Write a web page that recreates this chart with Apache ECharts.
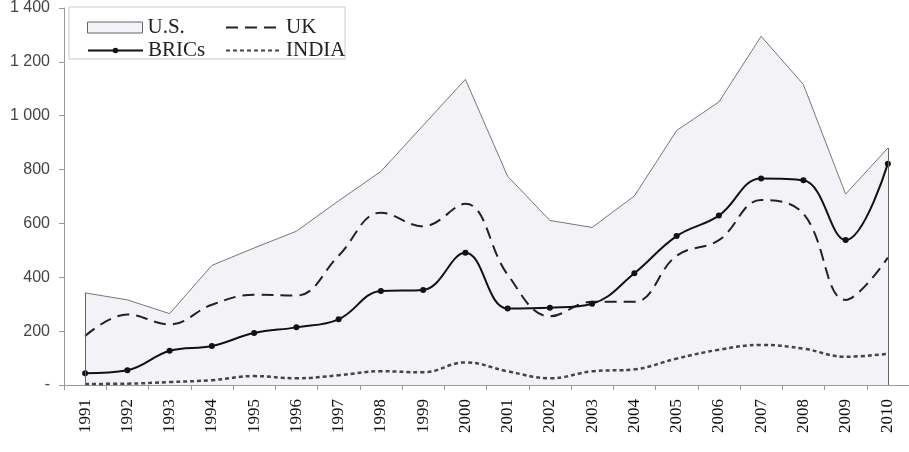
<!DOCTYPE html>
<html lang="en">
<head>
    <meta charset="UTF-8">
    <title>Chart</title>
    <script type="text/javascript" src="https://cdn.jsdelivr.net/npm/echarts@6/dist/echarts.min.js"></script>
    <style>
        html, body { margin: 0; padding: 0; background: #fff; }
    </style>
</head>
<body>
<div id="main" style="width:909px;height:452px;"></div>

<script type="text/javascript">
    // years on the x axis
    var years = ['1991','1992','1993','1994','1995','1996','1997','1998','1999','2000',
                 '2001','2002','2003','2004','2005','2006','2007','2008','2009','2010'];
    // series values
    var us    = [342, 316, 265, 444, 509, 571, 684, 793, 964, 1135, 775, 611, 585, 702, 945, 1051, 1295, 1116, 709, 880];
    var uk    = [182, 262, 225, 298, 335, 332, 480, 640, 589, 673, 410, 255, 309, 309, 480, 538, 687, 636, 316, 473];
    var brics = [44, 55, 127, 145, 193, 214, 244, 349, 353, 491, 284, 287, 302, 415, 553, 629, 767, 760, 538, 822];
    var india = [4, 5, 11, 18, 33, 25, 36, 51, 47, 84, 51, 25, 51, 58, 98, 131, 149, 135, 105, 116];

    var last = years.length - 1;
    var chart = echarts.init(document.getElementById('main'));

    var legendText = { fontFamily: 'Liberation Serif', fontSize: 21, color: '#222' };

    // one legend per entry so each can sit in its own cell of the 2x2 box
    function legendItem(item, left, top, h) {
        return {
            data: [item], left: left, top: top,
            itemWidth: 55, itemHeight: h, itemGap: 0,
            textStyle: legendText
        };
    }

    var option = {
        animation: false,
        backgroundColor: '#fff',
        grid: { left: 64, top: 0, width: 850, bottom: 67 },
        legend: [
            legendItem({ name: 'U.S.', icon: 'rect', itemStyle: { color: '#f3f2f6', borderColor: '#666', borderWidth: 1 } }, 82, 12, 11),
            legendItem({ name: 'BRICs' }, 82, 35, 7),
            legendItem({ name: 'UK', itemStyle: { opacity: 0 } }, 220, 12, 8),
            legendItem({ name: 'INDIA', itemStyle: { opacity: 0 } }, 220, 35, 8)
        ],
        graphic: [{
            type: 'rect', z: 3,
            shape: { x: 69, y: 7, width: 276, height: 52 },
            style: { fill: '#fff', stroke: '#ccc', lineWidth: 1 }
        }],
        xAxis: {
            type: 'category',
            data: years,
            boundaryGap: true,
            axisLine: { lineStyle: { color: '#999', width: 1 } },
            axisTick: { show: true, length: 5, inside: false, lineStyle: { color: '#999' } },
            axisLabel: {
                rotate: 90, margin: 14, interval: 0,
                fontFamily: 'Liberation Serif', fontSize: 17, color: '#111'
            }
        },
        yAxis: {
            type: 'value', min: 0, max: 1400, interval: 200,
            axisLine: { show: true, lineStyle: { color: '#999', width: 1 } },
            axisTick: { show: true, length: 5, lineStyle: { color: '#999' } },
            splitLine: { show: false },
            axisLabel: {
                margin: 14,
                fontFamily: 'Liberation Sans', fontSize: 16, color: '#444',
                formatter: function (v) {
                    if (v === 0) return '-';
                    return String(v).replace(/\B(?=(\d{3})+(?!\d))/g, ' ');
                }
            }
        },
        series: [{
            name: 'U.S.',
            type: 'line',
            data: us,
            symbol: 'none',
            z: 1,
            lineStyle: { color: '#777', width: 1 },
            itemStyle: { color: '#f3f2f6', borderColor: '#666' },
            areaStyle: { color: '#f3f2f6', opacity: 1 },
            markLine: {
                silent: true,
                symbol: 'none',
                label: { show: false },
                lineStyle: { color: '#666', width: 1, type: 'solid' },
                data: [
                    [{ coord: [years[0], 0] }, { coord: [years[0], us[0]] }],
                    [{ coord: [years[last], 0] }, { coord: [years[last], us[last]] }]
                ]
            }
        }, {
            name: 'UK',
            type: 'line',
            data: uk,
            smooth: 0.4,
            symbol: 'none',
            lineStyle: { color: '#222', width: 2, type: [12, 7] },
            itemStyle: { color: '#222' }
        }, {
            name: 'BRICs',
            type: 'line',
            data: brics,
            smooth: 0.4,
            symbol: 'circle',
            symbolSize: 6,
            lineStyle: { color: '#111', width: 2 },
            itemStyle: { color: '#111' }
        }, {
            name: 'INDIA',
            type: 'line',
            data: india,
            smooth: 0.4,
            symbol: 'none',
            lineStyle: { color: '#444', width: 2.5, type: [4, 3] },
            itemStyle: { color: '#444' }
        }]
    };

    chart.setOption(option);
</script>
</body>
</html>
